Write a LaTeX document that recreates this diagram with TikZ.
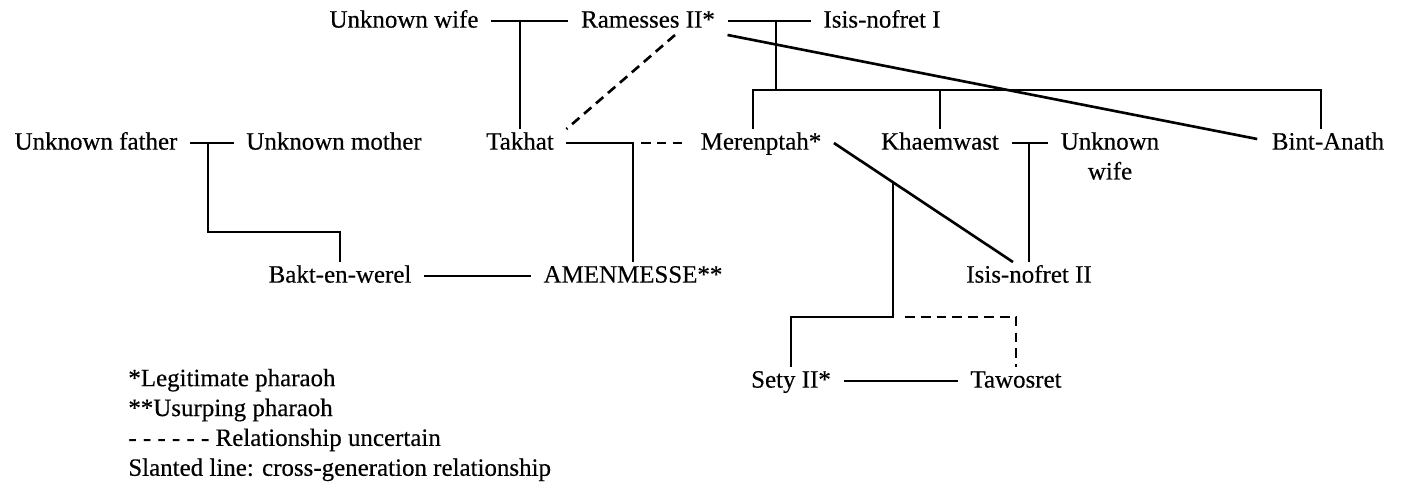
\documentclass[tikz,border=0pt]{standalone}
\usepackage{fontspec}
\setmainfont{Liberation Serif}[FakeBold=0.35]
\usetikzlibrary{calc}
\tikzstyle{who} = [inner xsep=7pt, inner ysep=1pt, text height=10.5pt, text depth=3pt, font=\fontsize{14.2}{17}\selectfont]
\tikzstyle{key} = [inner sep=0pt, align=left, font=\fontsize{14.2}{17}\selectfont]
\tikzstyle{tie} = [line width=1.5pt]
\tikzstyle{doubt} = [line width=1.5pt, dash pattern=on 5.5pt off 3.5pt]

\begin{document}
\begin{tikzpicture}[x=0.02cm,y=-0.02cm]
  \def\ya{21}
  \def\yb{143}
  \def\yc{276}
  \def\yd{381}
  \useasboundingbox (0,0) rectangle (1402,488);
  % generation of Ramesses II
  \node[who] (uwife) at (404,\ya) {Unknown wife};
  \node[who] (ram) at (648,\ya) {Ramesses II*};
  \node[who] (isis1) at (882,\ya) {Isis-nofret I};
  % children
  \node[who] (ufather) at (96,\yb) {Unknown father};
  \node[who] (umother) at (334,\yb) {Unknown mother};
  \node[who] (takhat) at (520,\yb) {Takhat};
  \node[who] (mer) at (761,\yb) {Merenptah*};
  \node[who] (khaem) at (940,\yb) {Khaemwast};
  \node[who] (kwife) at (1110,\yb) {\begin{tabular}[t]{@{}c@{}}Unknown\\wife\end{tabular}};
  \node[who] (bint) at (1328,\yb) {Bint-Anath};
  \node[who] (bakt) at (340,\yc) {Bakt-en-werel};
  \node[who] (amen) at (633,\yc) {AMENMESSE**};
  \node[who] (isis2) at (1029,\yc) {Isis-nofret II};
  \node[who] (sety) at (791,\yd) {Sety II*};
  \node[who] (taw) at (1016,\yd) {Tawosret};

  \coordinate (bar) at (776,90);
  \coordinate (barl) at (753,90);
  \coordinate (barr) at (1321,90);
  \coordinate (jfa) at (208,232);
  \coordinate (isistop) at ($(isis2.north)+(-16,0)$);
  \coordinate (jmer) at ($(mer.east)!0.33!(isistop)$);
  \coordinate (jkid) at (jmer |- 0,317);

  \draw[tie] (uwife) -- (ram);
  \draw[tie] (takhat) -- (takhat |- ram);
  \draw[tie] (ram) -- (isis1);
  \draw[tie] (bar |- ram) -- (bar);
  \draw[tie] (barl |- mer.north) -- (barl) -- (barr) -- (barr |- bint.north);
  \draw[tie] (khaem.north) -- (khaem.north |- barl);
  \draw[tie] (ram.south east) -- ($(bint.west)+(-2,-4)$); % slanted
  \draw[doubt] ($(ram.south)+(27,0)$) -- (takhat.north east);
  \draw[tie] (takhat) -| (amen);
  \draw[doubt] ($(takhat -| amen)+(8,0)$) -- (mer.west);
  \draw[tie] (ufather) -- (umother);
  \draw[tie] (jfa |- ufather) -- (jfa) -| (bakt.north);
  \draw[tie] (bakt) -- (amen);
  \draw[tie] (khaem) -- (kwife);
  \draw[tie] (isis2.north) -- (isis2.north |- khaem);
  \draw[tie] (mer.east) -- (isistop); % slanted
  \draw[tie] (jmer) -- (jkid) -| (sety.north);
  \draw[doubt] ($(jkid)+(12,0)$) -| (taw.north);
  \draw[tie] (sety) -- (taw);

  \node[key, anchor=west] (legend) at (128,425) {*Legitimate pharaoh\\**Usurping pharaoh\\- - - - - - Relationship uncertain\\Slanted line: cross-generation relationship};
\end{tikzpicture}
\end{document}
